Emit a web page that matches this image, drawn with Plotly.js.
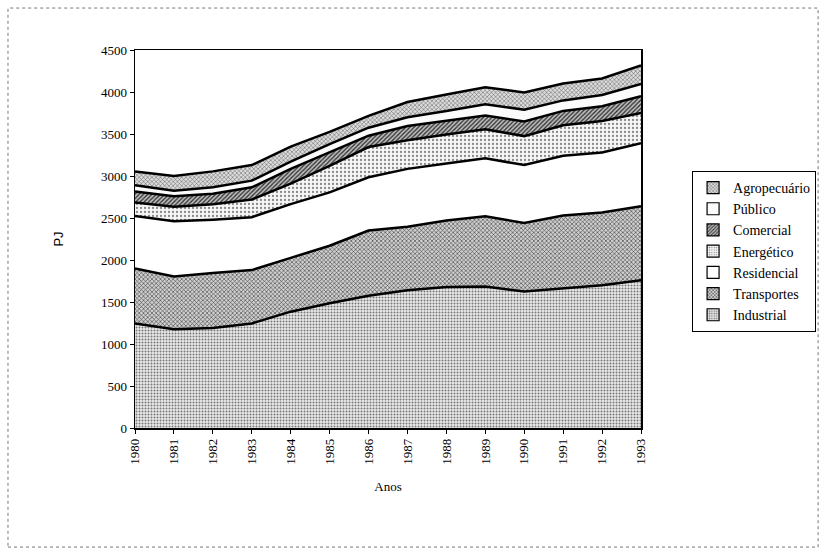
<!DOCTYPE html>
<html>
<head>
<meta charset="utf-8">
<script src="https://cdn.plot.ly/plotly-3.0.1.min.js"></script>
<style>
html,body{margin:0;padding:0;background:#fff;}
#chart{width:824px;height:554px;}
</style>
</head>
<body>
<div id="chart"></div>
<script>
var years = [1980,1981,1982,1983,1984,1985,1986,1987,1988,1989,1990,1991,1992,1993];
var industrial   = [1245,1175,1190,1245,1385,1485,1575,1640,1680,1685,1625,1660,1700,1760];
var transportes  = [655,630,655,635,640,685,775,755,790,835,815,870,865,880];
var residencial  = [625,655,635,630,640,635,635,690,680,690,690,710,715,750];
var energetico   = [160,175,185,210,245,315,360,340,345,345,345,365,375,360];
var comercial    = [130,125,125,145,175,160,135,170,165,165,175,170,175,200];
var publico      = [75,65,75,80,85,100,95,105,115,135,140,125,135,145];
var agropecuario = [165,175,190,185,180,145,140,180,195,200,205,200,195,220];
var seriesNames = ["Industrial","Transportes","Residencial","Energético","Comercial","Público","Agropecuário"];
var yTicks = [0,500,1000,1500,2000,2500,3000,3500,4000,4500];

var seriesData = [industrial, transportes, residencial, energetico, comercial, publico, agropecuario];
var patterns = [
  {shape:".", fgcolor:"#777777", bgcolor:"#eaeaea", size:3, solidity:0.35},
  {shape:"x", fgcolor:"#3a3a3a", bgcolor:"#cfcfcf", size:3, solidity:0.35},
  null,
  {shape:".", fgcolor:"#888888", bgcolor:"#f6f6f6", size:4, solidity:0.25},
  {shape:"/", fgcolor:"#2a2a2a", bgcolor:"#bdbdbd", size:3, solidity:0.4},
  null,
  {shape:"x", fgcolor:"#555555", bgcolor:"#dcdcdc", size:3, solidity:0.3}
];
var fills = ["#dadada","#b8b8b8","#ffffff","#ececec","#a8a8a8","#fbfbfb","#cccccc"];

var traces = [];
seriesNames.forEach(function(name, i){
  var t = {
    x: years,
    y: seriesData[i],
    name: name,
    type: "scatter",
    mode: "lines",
    stackgroup: "one",
    showlegend: false,
    line: {color: "#000", width: 2.5},
    fillcolor: fills[i]
  };
  if (patterns[i]) t.fillpattern = patterns[i];
  traces.push(t);
});
// legend swatches (square keys, no data drawn)
seriesNames.forEach(function(name, i){
  var m = {color: fills[i], line: {color: "#000", width: 1.2}};
  if (patterns[i]) m.pattern = {shape: patterns[i].shape, fgcolor: patterns[i].fgcolor, bgcolor: patterns[i].bgcolor, size: 3, solidity: patterns[i].solidity};
  traces.push({
    type: "bar", x: [null], y: [null], name: name,
    marker: m, showlegend: true, hoverinfo: "skip"
  });
});

var serif = "Liberation Serif, Times New Roman, serif";
var layout = {
  width: 824, height: 554,
  margin: {l:135, r:183, t:50, b:126, autoexpand: false},
  paper_bgcolor: "#fff",
  plot_bgcolor: "#fff",
  showlegend: true,
  legend: {
    x: 1.346, y: 0.68, xanchor: "right", yanchor: "top",
    traceorder: "reversed",
    bordercolor: "#000", borderwidth: 1, bgcolor: "#fff",
    font: {family: serif, size: 14, color: "#000"},
    tracegroupgap: 0, itemwidth: 30
  },
  xaxis: {
    range: [1980, 1993],
    tickvals: years,
    ticktext: years.map(String),
    tickangle: -90,
    ticks: "outside", ticklen: 4, tickcolor: "#000",
    showline: true, linecolor: "#000", linewidth: 1.5, mirror: true,
    showgrid: false, zeroline: false, automargin: false,
    tickfont: {family: serif, size: 13, color: "#000"},
    title: {text: "Anos", font: {family: serif, size: 13, color: "#000"}, standoff: 18}
  },
  yaxis: {
    range: [0, 4500],
    tickvals: yTicks,
    ticks: "outside", ticklen: 4, tickcolor: "#000",
    showline: true, linecolor: "#000", linewidth: 1.5, mirror: true,
    showgrid: false, zeroline: false, automargin: false,
    tickfont: {family: serif, size: 13, color: "#000"},
    title: {text: "PJ", font: {family: "Liberation Sans, Arial, sans-serif", size: 13, color: "#000"}, standoff: 34}
  },
  shapes: [{
    type: "rect", xref: "paper", yref: "paper",
    x0: -0.251, x1: 1.35, y0: -0.315, y1: 1.111,
    line: {color: "#777", width: 1, dash: "dot"}
  }]
};

Plotly.newPlot("chart", traces, layout, {displayModeBar: false, staticPlot: true});
</script>
</body>
</html>
